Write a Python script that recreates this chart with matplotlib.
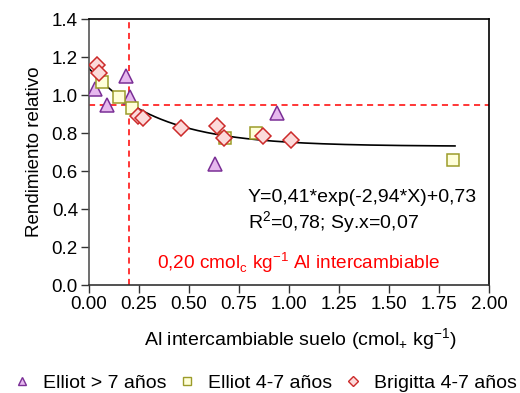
import numpy as np
import matplotlib.pyplot as plt
from matplotlib.lines import Line2D

plt.rcParams["font.family"] = ["Liberation Sans", "DejaVu Sans"]

# Elliot > 7 años
tri_x = [0.03, 0.09, 0.185, 0.205, 0.63, 0.94]
tri_y = [1.03, 0.947, 1.10, 0.99, 0.635, 0.904]
# Elliot 4-7 años
sq_x = [0.064, 0.15, 0.214, 0.68, 0.834, 1.82]
sq_y = [1.067, 0.99, 0.93, 0.775, 0.80, 0.658]
# Brigitta 4-7 años
dia_x = [0.042, 0.052, 0.247, 0.27, 0.459, 0.64, 0.675, 0.869, 1.01]
dia_y = [1.158, 1.114, 0.889, 0.877, 0.825, 0.838, 0.772, 0.784, 0.763]

# fitted model Y = a*exp(-b*X) + c
fit_a, fit_b, fit_c = 0.41, 2.94, 0.73
fit_xmax = 1.83
critical_al = 0.20
ref_yield = 0.95

fig = plt.figure(figsize=(5.2, 3.93), dpi=100)
ax = fig.add_axes([89 / 520, 1 - 285 / 393, 400 / 520, 266 / 393])

ax.axvline(critical_al, color="red", ls=(0, (4, 3)), lw=1.1, zorder=1)
ax.axhline(ref_yield, color="red", ls=(0, (4, 3)), lw=1.1, zorder=1)

xs = np.linspace(0, fit_xmax, 200)
ax.plot(xs, fit_a * np.exp(-fit_b * xs) + fit_c, color="black", lw=1.2, zorder=2)

ax.plot(tri_x, tri_y, ls="none", marker="^", ms=9.5, mfc="#e6b8ee", mec="#7a2f96", mew=1.1, zorder=3)
ax.plot(sq_x, sq_y, ls="none", marker="s", ms=8.5, mfc="#ffffd9", mec="#9c9c2a", mew=1.1, zorder=3)
ax.plot(dia_x, dia_y, ls="none", marker="D", ms=8, mfc="#fcdada", mec="#cc2a2a", mew=1.1, zorder=4)

ax.text(0.795, 0.463, "Y=0,41*exp(-2,94*X)+0,73", fontsize=14, va="center", ha="left")
ax.text(0.795, 0.33, "R$^\\mathregular{2}$=0,78; Sy.x=0,07", fontsize=14, va="center", ha="left")
ax.text(0.34, 0.12, "0,20 cmol$_\\mathregular{c}$ kg$^\\mathregular{-1}$ Al intercambiable",
        fontsize=13.7, color="red", va="center", ha="left")

ax.set_xlim(0, 2.0)
ax.set_ylim(0, 1.4)
ax.set_xticks(np.arange(0, 2.01, 0.25))
ax.set_yticks(np.arange(0, 1.41, 0.2))
ax.xaxis.set_major_formatter(plt.FormatStrFormatter("%.2f"))
ax.yaxis.set_major_formatter(plt.FormatStrFormatter("%.1f"))
ax.tick_params(direction="out", length=6, width=1, labelsize=13.5, colors="#333333", labelcolor="black", pad=2)
ax.tick_params(top=False, right=False)
for s in ax.spines.values():
    s.set_linewidth(1.2)
ax.spines["left"].set_color("#555555")
ax.spines["bottom"].set_color("#333333")

ax.set_xlabel("Al intercambiable suelo (cmol$_\\mathregular{+}$ kg$^\\mathregular{-1}$)", fontsize=14, labelpad=6)
ax.xaxis.set_label_coords(0.53, -0.155)
ax.set_ylabel("Rendimiento relativo", fontsize=13.5, labelpad=6)

handles = [
    Line2D([], [], ls="none", marker="^", ms=6, mfc="#e6b8ee", mec="#7a2f96", mew=1.0),
    Line2D([], [], ls="none", marker="s", ms=6, mfc="#ffffd9", mec="#9c9c2a", mew=1.0),
    Line2D([], [], ls="none", marker="D", ms=5.5, mfc="#fcdada", mec="#cc2a2a", mew=1.0),
]
labels = ["Elliot > 7 años", "Elliot 4-7 años", "Brigitta 4-7 años"]
fig.legend(handles, labels, loc="center left", bbox_to_anchor=(12 / 520, 1 - 383 / 393), ncol=3,
           frameon=False, fontsize=14, handletextpad=0.6, columnspacing=0.55, handlelength=1.0,
           borderaxespad=0, borderpad=0)

fig.savefig("out.png", dpi=100)
